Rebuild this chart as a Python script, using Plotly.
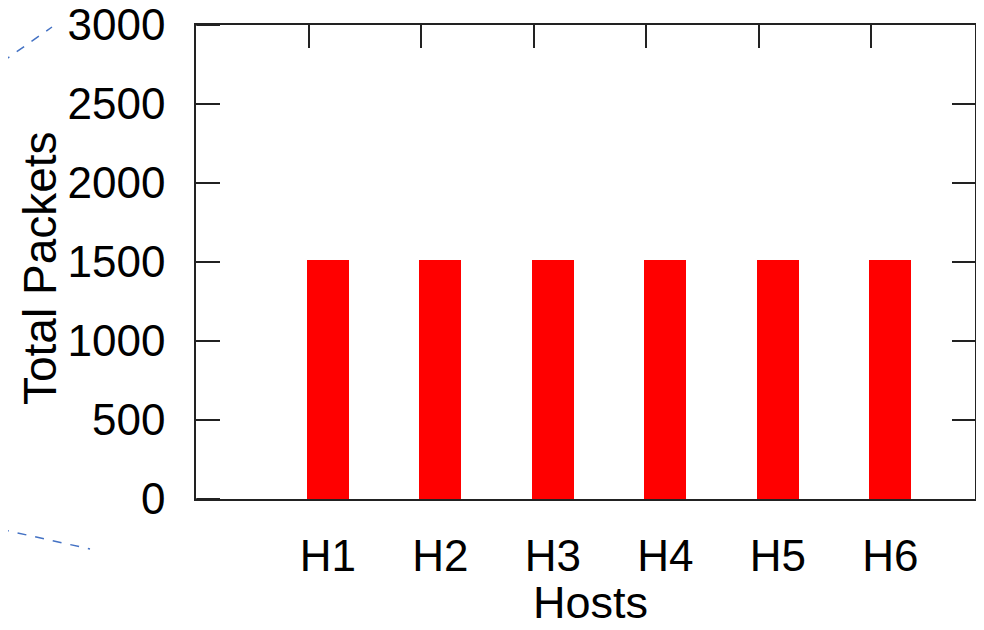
import plotly.graph_objects as go

hosts = ["H1", "H2", "H3", "H4", "H5", "H6"]
total_packets = [1512, 1510, 1512, 1511, 1513, 1512]
y_ticks = [0, 500, 1000, 1500, 2000, 2500, 3000]
top_tick_positions = [1, 2, 3, 4, 5, 6]

# page body adds an 8px margin on every side; keep the figure inside the window
OFF = 8
W, H = 984 - 2 * OFF, 630 - 2 * OFF
# plot area in page pixels
PL, PR, PT, PB = 196, 975, 25, 499
L, T = PL - OFF, PT - OFF
R, B = OFF + W - PR, OFF + H - PB
PW, PH = PR - PL, PB - PT
TICKLEN = 23
SLOT = 112.5  # pixels per category slot

def px(x):
    return (x - PL) / PW

def py(y):
    return (PB - y) / PH

FONT = "Liberation Sans, Arial, Helvetica, sans-serif"
LINE = "#222222"

fig = go.Figure()
fig.add_trace(go.Bar(
    x=hosts, y=total_packets, width=0.373,
    marker=dict(color="#ff0000", line=dict(width=0)),
    showlegend=False,
))
# invisible helper traces that switch on the extra tick-only axes
fig.add_trace(go.Scatter(
    x=top_tick_positions, y=[0] * len(top_tick_positions), xaxis="x2", yaxis="y",
    mode="markers", marker=dict(opacity=0), showlegend=False, hoverinfo="skip",
))
fig.add_trace(go.Scatter(
    x=hosts, y=y_ticks[:len(hosts)], xaxis="x", yaxis="y2",
    mode="markers", marker=dict(opacity=0), showlegend=False, hoverinfo="skip",
))
fig.add_trace(go.Scatter(
    x=hosts, y=y_ticks[:len(hosts)], xaxis="x", yaxis="y3",
    mode="markers", marker=dict(opacity=0), showlegend=False, hoverinfo="skip",
))

x_lo = -1.173
x_hi = x_lo + PW / SLOT

# left-side inside tick marks at the y tick values
left_ticks = [
    dict(type="line", xref="x", yref="y", x0=x_lo, x1=x_lo + TICKLEN / SLOT, y0=v, y1=v,
         line=dict(color=LINE, width=1.5), layer="above")
    for v in y_ticks
]

fig.update_layout(
    width=W, height=H,
    margin=dict(l=L, r=R, t=T, b=B, pad=0, autoexpand=False),
    paper_bgcolor="white", plot_bgcolor="white",
    font=dict(family=FONT, size=44, color="black"),
    bargap=0,
    xaxis=dict(
        type="category", categoryorder="array", categoryarray=hosts,
        range=[x_lo, x_hi], automargin=False,
        showline=True, mirror=True, linecolor=LINE, linewidth=1.5,
        ticks="", showgrid=False, zeroline=False,
        tickfont=dict(size=44), ticklabelstandoff=17,
    ),
    xaxis2=dict(
        overlaying="x", side="top", range=[x_lo + 1.173, x_hi + 1.173], automargin=False,
        tickvals=top_tick_positions, ticks="inside", ticklen=TICKLEN,
        tickcolor=LINE, tickwidth=1.5,
        showticklabels=False, showline=False, showgrid=False, zeroline=False,
    ),
    yaxis=dict(
        range=[0, 3000], tickvals=y_ticks, automargin=False,
        ticks="inside", ticklen=TICKLEN, tickcolor=LINE, tickwidth=1.5,
        showline=True, mirror=True, linecolor=LINE, linewidth=1.5,
        showgrid=False, zeroline=False, ticklabeloverflow="allow",
        tickfont=dict(size=44), ticklabelstandoff=20,
    ),
    yaxis2=dict(
        overlaying="y", side="right", range=[0, 3000], tickvals=y_ticks,
        automargin=False, ticks="inside", ticklen=TICKLEN, tickcolor=LINE, tickwidth=1.5,
        showticklabels=False, showline=False, showgrid=False, zeroline=False,
    ),
    yaxis3=dict(
        overlaying="y", anchor="free", position=0, side="right",
        range=[0, 3000], tickvals=y_ticks,
        automargin=False, ticks="outside", ticklen=TICKLEN, tickcolor=LINE, tickwidth=1.5,
        showticklabels=False, showline=False, showgrid=False, zeroline=False,
    ),
    annotations=[
        dict(text="Total Packets", textangle=-90, xref="paper", yref="paper",
             x=px(40), y=py(268), xanchor="center", yanchor="middle",
             showarrow=False, font=dict(size=46)),
        dict(text="Hosts", xref="paper", yref="paper",
             x=px(590), y=py(602), xanchor="center", yanchor="middle",
             showarrow=False, font=dict(size=45)),
    ],
    shapes=left_ticks + [
        dict(type="line", xref="paper", yref="paper",
             x0=px(2), y0=py(62), x1=px(52), y1=py(27),
             line=dict(color="#4472c4", width=1.5, dash="dash")),
        dict(type="line", xref="paper", yref="paper",
             x0=px(0), y0=py(529), x1=px(90), y1=py(549),
             line=dict(color="#4472c4", width=1.5, dash="dash")),
    ],
)

fig.write_html("out.html")
